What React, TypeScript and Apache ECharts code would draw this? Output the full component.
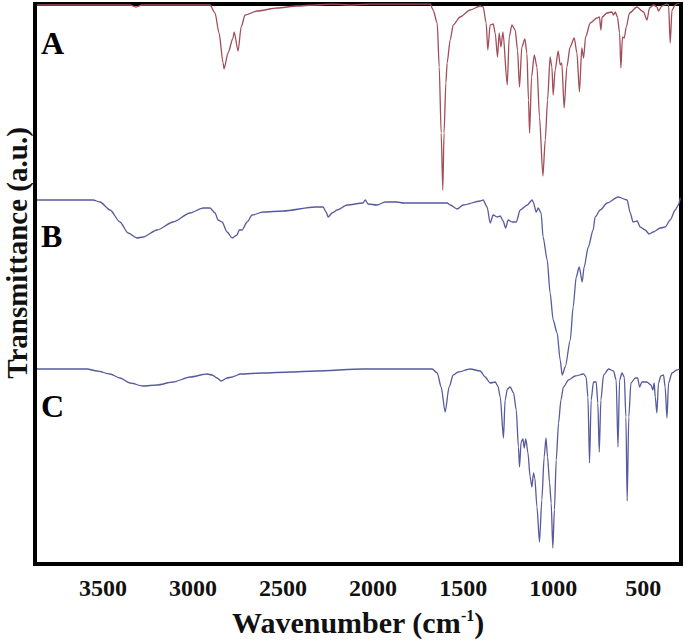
import React, { useEffect, useRef } from "react";
import * as echarts from "echarts";

// Wavenumber axis tick labels (cm-1)
const xTicks = [3500, 3000, 2500, 2000, 1500, 1000, 500];

// Spectrum A (offset transmittance, a.u.)
const aWave = [3867, 3739, 3406, 3350, 3317, 3283, 2961, 2906, 2878, 2856, 2833, 2828, 2806, 2778, 2772, 2750, 2733, 2711, 2644, 2533, 2422, 2322, 2228, 2128, 2017, 1850, 1683, 1667, 1644, 1633, 1622, 1613, 1606, 1596, 1589, 1572, 1555, 1517, 1461, 1405, 1389, 1372, 1363, 1350, 1333, 1322, 1309, 1300, 1290, 1279, 1255, 1244, 1229, 1211, 1198, 1187, 1174, 1157, 1146, 1137, 1131, 1120, 1105, 1090, 1076, 1057, 1044, 1031, 1017, 1007, 1000, 989, 972, 961, 952, 939, 924, 906, 883, 868, 854, 841, 831, 820, 794, 757, 743, 735, 728, 701, 674, 665, 655, 643, 631, 624, 615, 605, 594, 576, 535, 498, 479, 465, 443, 424, 415, 396, 368, 359, 350, 340, 322, 304, 294];
const aT = [559, 559, 559, 559, 557, 559, 559, 559, 551, 531, 501, 495, 511, 526, 532, 513, 537, 549, 553, 556, 558, 559, 560, 559, 560, 560, 560, 554, 541, 497, 431, 374, 431, 481, 501, 524, 539, 547, 554, 558, 557, 541, 514, 539, 540, 531, 507, 531, 517, 532, 479, 527, 539, 534, 514, 477, 517, 525, 511, 464, 431, 487, 509, 497, 447, 388, 424, 464, 507, 497, 469, 494, 513, 499, 501, 456, 497, 517, 526, 511, 472, 516, 506, 527, 541, 546, 547, 534, 547, 551, 552, 549, 552, 547, 531, 496, 527, 526, 537, 551, 557, 552, 544, 556, 559, 557, 553, 558, 560, 559, 521, 554, 559, 561, 561];

// Spectrum B
const bWave = [3867, 3556, 3517, 3461, 3406, 3361, 3311, 3278, 3200, 3111, 3017, 2944, 2906, 2878, 2861, 2839, 2811, 2783, 2756, 2744, 2728, 2700, 2672, 2611, 2500, 2322, 2278, 2261, 2250, 2228, 2200, 2144, 2056, 2044, 2028, 1978, 1933, 1889, 1867, 1833, 1667, 1589, 1572, 1533, 1500, 1405, 1389, 1367, 1350, 1333, 1311, 1294, 1278, 1264, 1250, 1228, 1205, 1183, 1144, 1117, 1111, 1094, 1083, 1067, 1056, 1033, 1017, 1000, 978, 961, 950, 933, 905, 889, 872, 855, 839, 828, 805, 778, 767, 739, 700, 639, 589, 572, 556, 533, 517, 489, 467, 444, 405, 378, 350, 322, 305, 294];
const bT = [364, 364, 362, 354, 342, 331, 326, 327, 334, 342, 351, 356, 356, 351, 344, 342, 332, 326, 329, 334, 334, 342, 349, 352, 353, 357, 357, 352, 347, 351, 354, 359, 361, 364, 360, 359, 362, 362, 362, 361, 361, 361, 359, 355, 359, 363, 364, 357, 341, 349, 347, 348, 343, 336, 344, 342, 342, 354, 359, 364, 362, 352, 356, 351, 327, 304, 271, 244, 231, 204, 189, 197, 224, 257, 287, 297, 282, 297, 317, 334, 347, 354, 361, 367, 364, 351, 342, 343, 337, 334, 330, 332, 336, 337, 344, 354, 359, 366];

// Spectrum C
const cWave = [3867, 3589, 3533, 3461, 3406, 3350, 3278, 3200, 3111, 3017, 2922, 2894, 2867, 2844, 2811, 2783, 2767, 2739, 2611, 2461, 2322, 2056, 1850, 1672, 1644, 1622, 1600, 1578, 1555, 1528, 1461, 1405, 1378, 1350, 1322, 1307, 1294, 1276, 1267, 1254, 1239, 1220, 1205, 1193, 1187, 1178, 1168, 1161, 1152, 1140, 1128, 1118, 1109, 1102, 1090, 1076, 1063, 1050, 1040, 1031, 1020, 1011, 1002, 993, 983, 970, 957, 943, 915, 878, 831, 817, 807, 798, 789, 776, 761, 752, 744, 735, 720, 692, 665, 650, 640, 631, 618, 605, 596, 589, 580, 568, 544, 531, 520, 507, 480, 457, 446, 439, 433, 424, 415, 402, 387, 378, 368, 359, 340, 313, 298];
const cT = [195, 195, 193, 190, 186, 181, 178, 179, 182, 187, 190, 189, 186, 183, 186, 187, 188, 190, 191, 192, 193, 195, 195, 195, 191, 177, 152, 177, 189, 192, 195, 193, 187, 181, 182, 178, 167, 126, 164, 175, 177, 171, 154, 117, 97, 122, 125, 116, 125, 111, 87, 77, 91, 86, 57, 22, 64, 107, 126, 107, 81, 61, 16, 54, 104, 141, 164, 177, 184, 188, 190, 187, 167, 101, 164, 182, 182, 161, 112, 164, 189, 195, 193, 184, 117, 184, 191, 187, 147, 63, 147, 181, 186, 186, 177, 182, 182, 179, 174, 181, 167, 151, 181, 188, 189, 177, 146, 181, 191, 194, 195];

const zip = (w: number[], t: number[]) => w.map((v, i) => [v, t[i]]);

const serif = "'Liberation Serif', 'Times New Roman', 'DejaVu Serif', serif";

export default function App() {
  const ref = useRef<HTMLDivElement>(null);
  useEffect(() => {
    document.body.style.margin = "0";
    const chart = echarts.init(ref.current!, undefined, { renderer: "svg" });
    const lineCommon = {
      type: "line",
      showSymbol: false,
      smooth: 0.25,
      smoothMonotone: "x",
    };
    chart.setOption({
      animation: false,
      backgroundColor: "#ffffff",
      grid: {
        left: 35,
        top: 4,
        width: 646,
        height: 560,
        show: true,
        borderColor: "#000",
        borderWidth: 4,
        backgroundColor: "transparent",
      },
      xAxis: {
        type: "value",
        inverse: true,
        min: 290,
        max: 3878,
        axisLine: { show: false },
        axisTick: { show: false },
        splitLine: { show: false },
        axisLabel: {
          customValues: xTicks,
          formatter: (v: number) => String(v),
          margin: 12,
          fontFamily: serif,
          fontWeight: "bold",
          fontSize: 24,
          color: "#111",
        },
        name: "{a|Wavenumber (cm}{s|-1}{a|)}",
        nameLocation: "middle",
        nameGap: 43,
        nameTextStyle: {
          rich: {
            a: { fontFamily: serif, fontWeight: "bold", fontSize: 30, color: "#111" },
            s: { fontFamily: serif, fontWeight: "bold", fontSize: 16, color: "#111", verticalAlign: "top", padding: [0, 0, 10, 0] },
          },
        },
      },
      yAxis: {
        type: "value",
        min: 0,
        max: 560,
        axisLine: { show: false },
        axisTick: { show: false },
        axisLabel: { show: false },
        splitLine: { show: false },
      },
      graphic: [
        {
          type: "text",
          x: 17,
          y: 253,
          rotation: Math.PI / 2,
          style: {
            text: "Transmittance (a.u.)",
            font: `bold 29px ${serif}`,
            fill: "#111",
            align: "center",
            verticalAlign: "middle",
          },
        },
        { type: "text", left: 41, top: 27, style: { text: "A", font: `bold 32px ${serif}`, fill: "#000" } },
        { type: "text", left: 41, top: 220, style: { text: "B", font: `bold 32px ${serif}`, fill: "#000" } },
        { type: "text", left: 41, top: 390, style: { text: "C", font: `bold 32px ${serif}`, fill: "#000" } },
      ],
      series: [
        { ...lineCommon, name: "A", data: zip(aWave, aT), lineStyle: { color: "#a24d57", width: 1.3 } },
        { ...lineCommon, name: "B", data: zip(bWave, bT), lineStyle: { color: "#575a9c", width: 1.3 } },
        { ...lineCommon, name: "C", data: zip(cWave, cT), lineStyle: { color: "#575a9c", width: 1.3 } },
      ],
    });
    return () => chart.dispose();
  }, []);
  return <div ref={ref} style={{ width: 685, height: 642 }} />;
}
